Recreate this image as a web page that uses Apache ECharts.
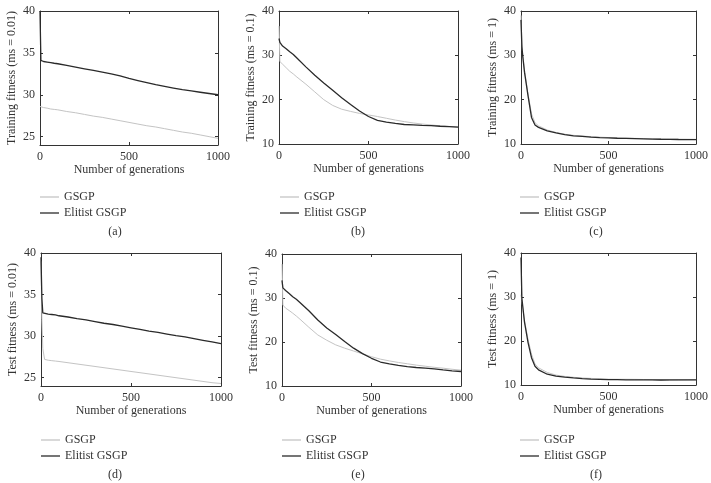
<!DOCTYPE html>
<html>
<head>
<meta charset="utf-8">
<script src="https://cdn.jsdelivr.net/npm/echarts@6/dist/echarts.min.js"></script>
<style>html,body{margin:0;padding:0;background:#fff;}#c{width:711px;height:483px;}</style>
</head>
<body>
<div id="c"></div>
<script>
// Generations (x values shared by all panels)
const gens = [0, 5, 10, 20, 40, 60, 80, 100, 150, 200, 250, 300, 350, 400, 450, 500, 550, 600, 650, 700, 750, 800, 850, 900, 950, 1000];

// (a) Training fitness, ms = 0.01
const gsgpTrain001 = [28.6, 28.55, 28.5, 28.47, 28.4, 28.3, 28.25, 28.2, 28.0, 27.85, 27.65, 27.45, 27.3, 27.1, 26.9, 26.7, 26.5, 26.3, 26.15, 25.95, 25.75, 25.55, 25.4, 25.2, 25.0, 24.8];
const elitTrain001 = [40, 34.1, 34.0, 33.97, 33.9, 33.83, 33.76, 33.7, 33.5, 33.3, 33.1, 32.9, 32.7, 32.5, 32.25, 31.95, 31.7, 31.45, 31.2, 31.0, 30.8, 30.6, 30.45, 30.3, 30.15, 30.0];
// (b) Training fitness, ms = 0.1
const gsgpTrain01 = [36.6, 28.6, 28.4, 28.0, 27.2, 26.4, 25.8, 25.1, 23.5, 21.75, 20.0, 18.7, 17.85, 17.35, 16.9, 16.55, 16.2, 15.8, 15.4, 15.05, 14.75, 14.5, 14.3, 14.1, 13.95, 13.85];
const elitTrain01 = [33.8, 32.9, 32.5, 32.1, 31.5, 30.8, 30.2, 29.4, 27.4, 25.5, 23.75, 22.1, 20.45, 18.9, 17.45, 16.2, 15.35, 14.95, 14.65, 14.4, 14.3, 14.2, 14.15, 14.0, 13.9, 13.8];
// (c) Training fitness, ms = 1
const gsgpTrain1 = [39, 32.5, 30.2, 26.6, 21.3, 16.8, 14.8, 14.1, 13.15, 12.6, 12.2, 11.95, 11.8, 11.65, 11.55, 11.45, 11.38, 11.32, 11.27, 11.22, 11.18, 11.15, 11.12, 11.1, 11.08, 11.05];
const elitTrain1 = [38, 32.0, 29.8, 26.2, 20.9, 16.0, 14.3, 13.75, 12.95, 12.5, 12.1, 11.85, 11.7, 11.55, 11.45, 11.38, 11.3, 11.25, 11.2, 11.15, 11.1, 11.07, 11.05, 11.02, 11.0, 10.98];
// (d) Test fitness, ms = 0.01
const gsgpTest001 = [39, 32, 28.5, 27.2, 27.1, 27.05, 27.0, 26.95, 26.8, 26.65, 26.5, 26.35, 26.2, 26.05, 25.9, 25.75, 25.6, 25.45, 25.3, 25.15, 25.0, 24.85, 24.7, 24.55, 24.4, 24.3];
const elitTest001 = [39.5, 34.5, 32.8, 32.7, 32.65, 32.6, 32.55, 32.45, 32.3, 32.1, 31.95, 31.75, 31.55, 31.4, 31.2, 31.0, 30.8, 30.6, 30.45, 30.25, 30.05, 29.9, 29.7, 29.5, 29.3, 29.1];
// (e) Test fitness, ms = 0.1
const gsgpTest01 = [37.7, 28.4, 28.1, 27.7, 27.15, 26.55, 25.9, 25.2, 23.35, 21.6, 20.4, 19.35, 18.6, 17.95, 17.3, 16.65, 16.1, 15.7, 15.35, 15.05, 14.75, 14.5, 14.25, 14.05, 13.8, 13.6];
const elitTest01 = [34.0, 32.3, 32.0, 31.7, 31.0, 30.3, 29.7, 29.0, 27.1, 25.0, 23.2, 21.7, 20.1, 18.6, 17.35, 16.3, 15.45, 15.05, 14.7, 14.4, 14.2, 14.05, 13.9, 13.65, 13.45, 13.3];
// (f) Test fitness, ms = 1
const gsgpTest1 = [30.5, 29.2, 27.6, 24.6, 20.4, 17.0, 14.8, 13.9, 12.85, 12.25, 11.95, 11.75, 11.6, 11.5, 11.4, 11.32, 11.3, 11.3, 11.28, 11.25, 11.2, 11.1, 11.08, 11.12, 11.15, 11.18];
const elitTest1 = [39, 29.7, 27.9, 24.3, 19.7, 16.2, 14.25, 13.45, 12.45, 12.0, 11.78, 11.6, 11.45, 11.35, 11.28, 11.22, 11.2, 11.18, 11.17, 11.15, 11.15, 11.14, 11.15, 11.15, 11.16, 11.17];

// Tick labels
const xTicks = [0, 500, 1000];
const yTicksLow = [25, 30, 35, 40];
const yTicksHigh = [10, 20, 30, 40];
const seriesNames = ['GSGP', 'Elitist GSGP'];
const captions = ['(a)', '(b)', '(c)', '(d)', '(e)', '(f)'];
const yNames = ['Training fitness (ms = 0.01)', 'Training fitness (ms = 0.1)', 'Training fitness (ms = 1)',
                'Test fitness (ms = 0.01)', 'Test fitness (ms = 0.1)', 'Test fitness (ms = 1)'];

const FONT = 'Liberation Serif';
const TXT = '#333';
const GRAY = '#c4c4c4';
const DARK = '#2a2a2a';
const panels = [
  {grid:{left:40, top:11, width:178, height:134}, yMin:24, ticks:yTicksLow, g:gsgpTrain001, e:elitTrain001, cap:[115,232], leg:[40,191]},
  {grid:{left:279, top:11, width:179, height:133}, yMin:10, ticks:yTicksHigh, g:gsgpTrain01, e:elitTrain01, cap:[358,232], leg:[280,191]},
  {grid:{left:521, top:11, width:177, height:133}, yMin:10, ticks:yTicksHigh, g:gsgpTrain1, e:elitTrain1, cap:[596,232], leg:[520,191]},
  {grid:{left:41, top:253, width:180, height:133}, yMin:24, ticks:yTicksLow, g:gsgpTest001, e:elitTest001, cap:[115,475], leg:[41,434]},
  {grid:{left:282, top:254, width:179, height:132}, yMin:10, ticks:yTicksHigh, g:gsgpTest01, e:elitTest01, cap:[358,475], leg:[282,434]},
  {grid:{left:521, top:253, width:177, height:132}, yMin:10, ticks:yTicksHigh, g:gsgpTest1, e:elitTest1, cap:[596,475], leg:[520,434]}
];

const grid = [], xAxis = [], yAxis = [], series = [], legend = [], graphic = [];
const lineC = {color:'#333', width:1};
const plain = v => String(v);
panels.forEach((p, i) => {
  grid.push(p.grid);
  const labelStyle = {color:TXT, fontFamily:FONT, fontSize:12};
  xAxis.push({gridIndex:i, type:'value', min:0, max:1000, interval:500, position:'bottom',
    axisLine:{show:true, onZero:false, lineStyle:lineC}, axisTick:{show:true, inside:true, length:3, lineStyle:lineC},
    axisLabel:Object.assign({margin:6, customValues:xTicks, formatter:plain}, labelStyle), splitLine:{show:false},
    name:'Number of generations', nameLocation:'middle', nameGap:19, nameTextStyle:labelStyle});
  xAxis.push({gridIndex:i, type:'value', min:0, max:1000, interval:500, position:'top',
    axisLine:{show:true, onZero:false, lineStyle:lineC}, axisTick:{show:true, inside:true, length:3, lineStyle:lineC},
    axisLabel:{show:false}, splitLine:{show:false}});
  yAxis.push({gridIndex:i, type:'value', min:p.yMin, max:40, position:'left',
    axisLine:{show:true, onZero:false, lineStyle:lineC},
    axisTick:{show:true, inside:true, length:3, lineStyle:lineC, customValues:p.ticks},
    axisLabel:Object.assign({margin:5, customValues:p.ticks, formatter:plain}, labelStyle), splitLine:{show:false},
    name:yNames[i], nameLocation:'middle', nameGap:22, nameTextStyle:labelStyle});
  yAxis.push({gridIndex:i, type:'value', min:p.yMin, max:40, position:'right',
    axisLine:{show:true, onZero:false, lineStyle:lineC},
    axisTick:{show:true, inside:true, length:3, lineStyle:lineC, customValues:p.ticks},
    axisLabel:{show:false}, splitLine:{show:false}});
  series.push({type:'line', name:seriesNames[0], xAxisIndex:2*i, yAxisIndex:2*i, symbol:'none', animation:false,
    data:gens.map((x, k) => [x, p.g[k]]), lineStyle:{color:GRAY, width:1}, itemStyle:{color:GRAY}, z:2});
  series.push({type:'line', name:seriesNames[1], xAxisIndex:2*i, yAxisIndex:2*i, symbol:'none', animation:false,
    data:gens.map((x, k) => [x, p.e[k]]), lineStyle:{color:DARK, width:1.3}, itemStyle:{color:DARK}, z:3});
  legend.push({orient:'vertical', left:p.leg[0], top:p.leg[1], padding:0, itemWidth:19, itemHeight:1.3, itemGap:4,
    icon:'rect',
    data:[{name:seriesNames[0], icon:'rect', itemStyle:{color:GRAY}}, {name:seriesNames[1], icon:'rect', itemStyle:{color:DARK}}],
    selectedMode:false, textStyle:{color:TXT, fontFamily:FONT, fontSize:12, lineHeight:12}});
  graphic.push({type:'text', x:p.cap[0], y:p.cap[1], style:{text:captions[i], fill:TXT, font:'12px "Liberation Serif"', align:'center', verticalAlign:'middle'}});
});

const chart = echarts.init(document.getElementById('c'), null, {renderer:'canvas'});
chart.setOption({animation:false, backgroundColor:'#fff', grid, xAxis, yAxis, series, legend, graphic});
</script>
</body>
</html>
